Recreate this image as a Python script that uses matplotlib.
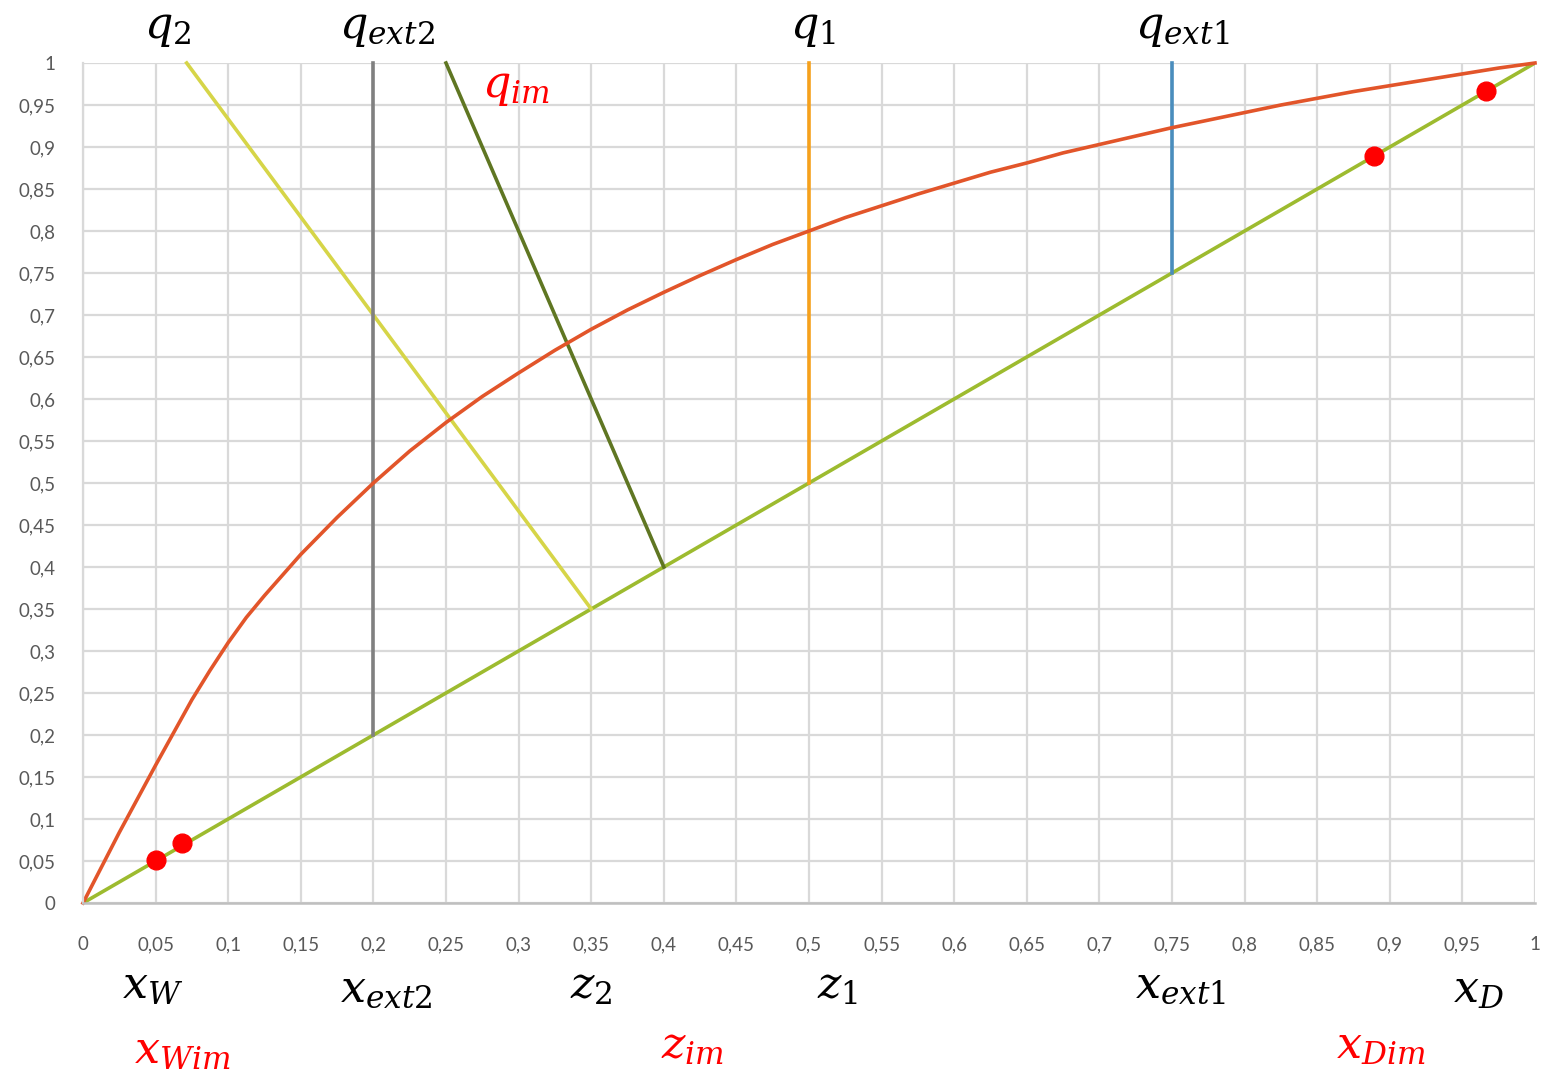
import matplotlib
matplotlib.use("Agg")
import matplotlib.pyplot as plt

plt.rcParams['mathtext.fontset'] = 'dejavuserif'

# Equilibrium curve
eq_x = [0, 0.025, 0.05, 0.075, 0.0875, 0.1, 0.1125, 0.125, 0.15,
        0.175, 0.2, 0.225, 0.25, 0.275, 0.3, 0.325, 0.35, 0.375, 0.4, 0.425, 0.45, 0.475,
        0.5, 0.525, 0.55, 0.575, 0.6, 0.625, 0.65, 0.675, 0.7, 0.725, 0.75, 0.775, 0.8,
        0.825, 0.85, 0.875, 0.9, 0.925, 0.95, 0.975, 1.0]
eq_y = [0, 0.084, 0.164, 0.242, 0.277, 0.31, 0.34, 0.366, 0.415,
        0.459, 0.5, 0.538, 0.572, 0.603, 0.631, 0.658, 0.683, 0.706, 0.727, 0.747, 0.766,
        0.784, 0.8, 0.816, 0.83, 0.844, 0.857, 0.87, 0.881, 0.893, 0.903, 0.913, 0.923,
        0.932, 0.941, 0.95, 0.958, 0.966, 0.973, 0.98, 0.987, 0.994, 1.0]

# Diagonal
diag_x = [0, 1]
diag_y = [0, 1]

# q-lines
q2_x = [0.35, 0.0714]
q2_y = [0.35, 1.0]
qext2_x = [0.4, 0.25]
qext2_y = [0.4, 1.0]
xext2_x = [0.2, 0.2]
xext2_y = [0.2, 1.0]
q1_x = [0.5, 0.5]
q1_y = [0.5, 1.0]
qext1_x = [0.75, 0.75]
qext1_y = [0.75, 1.0]

# Red points
pts_x = [0.05, 0.068, 0.889, 0.966]
pts_y = [0.051, 0.071, 0.889, 0.967]

ticks = [round(i * 0.05, 2) for i in range(21)]
tick_labels = ["0" if t == 0 else ("1" if t == 1 else f"{t:g}".replace(".", ",")) for t in ticks]

top_labels = [(r"$q_2$", 0.058), (r"$q_{ext2}$", 0.209), (r"$q_1$", 0.503), (r"$q_{ext1}$", 0.757)]
bottom_labels = [(r"$x_W$", 0.048, -0.098), (r"$x_{ext2}$", 0.209, -0.103), (r"$z_2$", 0.350, -0.098),
                 (r"$z_1$", 0.520, -0.098), (r"$x_{ext1}$", 0.756, -0.098), (r"$x_D$", 0.961, -0.103)]
red_labels = [(r"$x_{Wim}$", 0.068, -0.176), (r"$z_{im}$", 0.420, -0.170), (r"$x_{Dim}$", 0.894, -0.170)]

fig = plt.figure(figsize=(15.44, 10.70), dpi=100)
ax = fig.add_axes([83/1544, 1 - 903/1070, (1535 - 83)/1544, (903 - 63)/1070])
ax.set_xlim(0, 1)
ax.set_ylim(0, 1)
ax.set_xticks(ticks)
ax.set_yticks(ticks)
ax.set_xticklabels(tick_labels)
ax.set_yticklabels(tick_labels)
ax.tick_params(axis="y", length=0, labelsize=13.5, labelcolor="#595959", pad=20)
ax.tick_params(axis="x", length=0, labelsize=13.5, labelcolor="#595959", pad=24)
for lab in ax.get_xticklabels() + ax.get_yticklabels():
    lab.set_family("Lato")
ax.grid(True, color="#D9D9D9", linewidth=1.6)
ax.set_axisbelow(True)
for s in ["top", "right"]:
    ax.spines[s].set_visible(False)
ax.spines["left"].set_color("#D9D9D9")
ax.spines["left"].set_linewidth(1.6)
ax.spines["bottom"].set_color("#BFBFBF")
ax.spines["bottom"].set_linewidth(1.8)

lw = 2.6
ax.plot(diag_x, diag_y, color="#9DBB2F", lw=lw, solid_capstyle="butt")
ax.plot(q2_x, q2_y, color="#D6D548", lw=lw, clip_on=False)
ax.plot(qext2_x, qext2_y, color="#5F7622", lw=lw, clip_on=False)
ax.plot(xext2_x, xext2_y, color="#808080", lw=lw, clip_on=False)
ax.plot(q1_x, q1_y, color="#F6A11C", lw=lw, clip_on=False)
ax.plot(qext1_x, qext1_y, color="#4A8DBD", lw=lw, clip_on=False)
ax.plot(eq_x, eq_y, color="#E2552A", lw=lw, clip_on=False, solid_joinstyle="round")
ax.plot(pts_x, pts_y, "o", color="#FF0000", markersize=13.5, zorder=5, clip_on=False)

fs = 32
for txt, x in top_labels:
    ax.text(x, 1.042, txt, fontsize=fs, ha="center", va="center", color="black", clip_on=False)
ax.text(0.298, 0.972, r"$q_{im}$", fontsize=fs, ha="center", va="center", color="#FF0000")
for txt, x, y in bottom_labels:
    ax.text(x, y, txt, fontsize=fs, ha="center", va="center", color="black", clip_on=False)
for txt, x, y in red_labels:
    ax.text(x, y, txt, fontsize=fs, ha="center", va="center", color="#FF0000", clip_on=False)

fig.savefig("out.png", dpi=100)
